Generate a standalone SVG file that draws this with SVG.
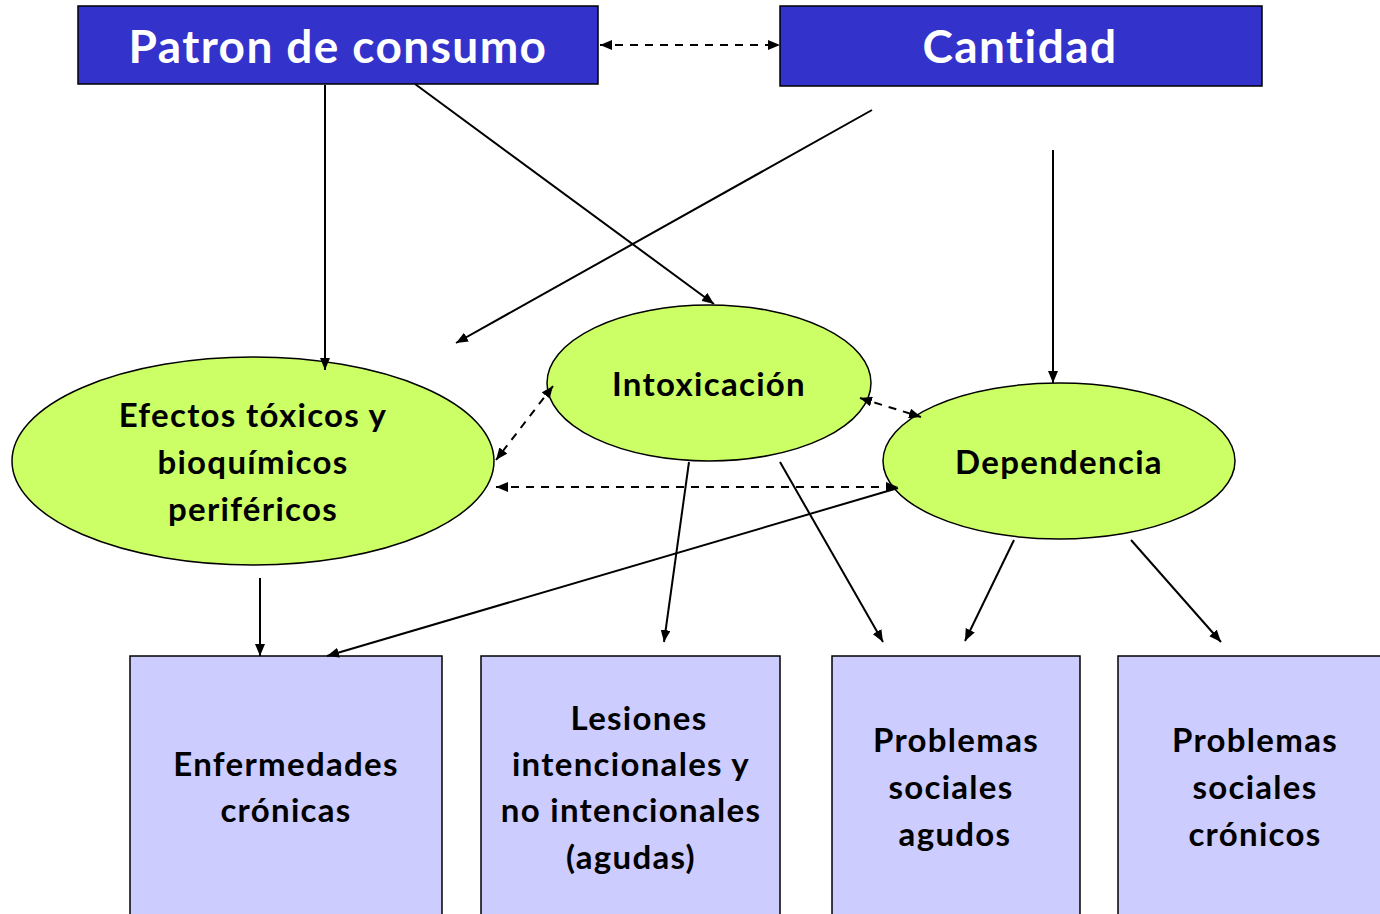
<svg xmlns="http://www.w3.org/2000/svg" width="1380" height="914" viewBox="0 0 1380 914">
<defs>
<marker id="ah" markerWidth="12" markerHeight="10" refX="12" refY="5" orient="auto" markerUnits="userSpaceOnUse"><path d="M0,0 L12,5 L0,10 Z" fill="#000"/></marker>
<marker id="as" markerWidth="12" markerHeight="10" refX="0" refY="5" orient="auto" markerUnits="userSpaceOnUse"><path d="M12,0 L0,5 L12,10 Z" fill="#000"/></marker>
<style>
.top{fill:#3333CC;stroke:#000;stroke-width:1.5}
.ell{fill:#CCFF66;stroke:#000;stroke-width:1.5}
.box{fill:#CCCCFF;stroke:#000;stroke-width:1.5}
.t{font-family:Lato,"Open Sans","Liberation Sans",sans-serif;font-weight:bold;text-anchor:middle;fill:#000;font-variant-ligatures:none}
.tt{font-family:Lato,"Open Sans","Liberation Sans",sans-serif;font-weight:bold;text-anchor:middle;fill:#fff;font-size:46px;letter-spacing:1.4px;font-variant-ligatures:none}
.e{font-size:33px;letter-spacing:1.3px}
.s{stroke:#000;stroke-width:2;fill:none;marker-end:url(#ah)}
.d{stroke:#000;stroke-width:2;fill:none;stroke-dasharray:8,7;marker-end:url(#ah);marker-start:url(#as)}
</style>
</defs>
<rect width="1380" height="914" fill="#fff"/>
<g id="patron"><rect class="top" x="78" y="6" width="520" height="78"/><text class="tt" x="338" y="63">Patron de consumo</text></g>
<g id="cantidad"><rect class="top" x="780" y="6" width="482" height="80"/><text class="tt" x="1020" y="63">Cantidad</text></g>
<g id="efectos"><ellipse class="ell" cx="253" cy="461" rx="241" ry="104"/><text class="t e" x="253" y="427">Efectos tóxicos y</text><text class="t e" x="253" y="474">bioquímicos</text><text class="t e" x="253" y="521">periféricos</text></g>
<g id="intoxicacion"><ellipse class="ell" cx="709" cy="383" rx="162" ry="78"/><text class="t e" x="709" y="396">Intoxicación</text></g>
<g id="dependencia"><ellipse class="ell" cx="1059" cy="461" rx="176" ry="78"/><text class="t e" x="1059" y="474">Dependencia</text></g>
<g id="enfermedades"><rect class="box" x="130" y="656" width="312" height="270"/><text class="t e" x="286" y="776">Enfermedades</text><text class="t e" x="286" y="822">crónicas</text></g>
<g id="lesiones"><rect class="box" x="481" y="656" width="299" height="270"/><text class="t e" x="639" y="730">Lesiones</text><text class="t e" x="631" y="776">intencionales y</text><text class="t e" x="631" y="822">no intencionales</text><text class="t e" x="631" y="869">(agudas)</text></g>
<g id="agudos"><rect class="box" x="832" y="656" width="248" height="270"/><text class="t e" x="956" y="752">Problemas</text><text class="t e" x="951" y="799">sociales</text><text class="t e" x="955" y="846">agudos</text></g>
<g id="cronicos"><rect class="box" x="1118" y="656" width="270" height="270"/><text class="t e" x="1255" y="752">Problemas</text><text class="t e" x="1255" y="799">sociales</text><text class="t e" x="1255" y="846">crónicos</text></g>
<g id="connectors">
<line class="s" x1="325" y1="85" x2="325" y2="370"/>
<line class="s" x1="415" y1="84" x2="714" y2="304"/>
<line class="s" x1="872" y1="110" x2="456" y2="343"/>
<line class="s" x1="1053" y1="150" x2="1053" y2="383"/>
<line class="d" x1="600" y1="45" x2="780" y2="45"/>
<line class="d" x1="553" y1="386" x2="496" y2="460"/>
<line class="d" x1="860" y1="398" x2="921" y2="417"/>
<line class="d" x1="496" y1="487" x2="898" y2="487"/>
<line class="s" x1="898" y1="488" x2="327" y2="656"/>
<line class="s" x1="260" y1="578" x2="260" y2="656"/>
<line class="s" x1="689" y1="462" x2="664" y2="642"/>
<line class="s" x1="780" y1="462" x2="883" y2="642"/>
<line class="s" x1="1014" y1="540" x2="965" y2="641"/>
<line class="s" x1="1131" y1="540" x2="1221" y2="642"/>
</g>
</svg>
